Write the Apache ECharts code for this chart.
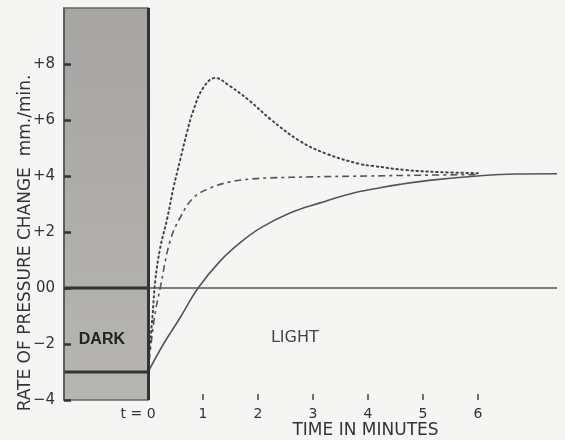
<!DOCTYPE html>
<html>
<head>
<meta charset="utf-8">
<script src="https://cdn.jsdelivr.net/npm/echarts@6/dist/echarts.min.js"></script>
<style>
html,body{margin:0;padding:0;background:#f5f5f3;}
#c{width:565px;height:440px;}
</style>
</head>
<body>
<div id="c"></div>
<script>
// ---- data ----
const xMin = -1.53, xMax = 7.44;
const yMin = -4, yMax = 10;
const xTickValues = [0, 1, 2, 3, 4, 5, 6];
const xTickLabels = ['t = 0', '1', '2', '3', '4', '5', '6'];
const yTickValues = [-4, -2, 0, 2, 4, 6, 8];
const yTickLabels = ['\u22124', '\u22122', '00', '+2', '+4', '+6', '+8'];

const solidCurve = [[0,-3],[0.28,-2.0],[0.58,-1.07],[0.91,0],[1.31,0.96],[1.67,1.61],[2.04,2.14],[2.58,2.68],[3.13,3.04],[3.67,3.36],[4.22,3.58],[4.58,3.7],[5.2,3.86],[6,4.0],[6.7,4.07],[7.44,4.08]];
const dashedCurve = [[0.02,-2.6],[0.12,-1.0],[0.22,0],[0.4,1.68],[0.58,2.5],[0.82,3.21],[1.13,3.57],[1.49,3.79],[1.85,3.89],[2.2,3.93],[3,3.97],[4,4.0],[5,4.03],[6,4.05]];
const dottedCurve = [[0.02,-2.3],[0.08,-1.0],[0.13,0.25],[0.22,1.43],[0.35,2.5],[0.46,3.57],[0.58,4.54],[0.7,5.5],[0.82,6.32],[1.0,7.14],[1.22,7.5],[1.49,7.21],[1.85,6.68],[2.22,6.04],[2.76,5.25],[3.25,4.79],[3.85,4.43],[4.09,4.36],[4.7,4.21],[5.3,4.14],[6.0,4.1]];
const darkZero = [[xMin,0],[0,0]];
const darkLevel = [[xMin,-3],[0,-3]];
const lightZero = [[0,0],[xMax,0]];
const darkLabel = ['DARK', -0.84, -1.86];
const lightLabel = ['LIGHT', 2.67, -1.79];

const FONT = 'DejaVu Sans';
const chart = echarts.init(document.getElementById('c'));
chart.setOption({
  backgroundColor: '#f5f5f3',
  animation: false,
  grid: {left: 64, right: 8, top: 8, bottom: 40, containLabel: false, outerBoundsMode: 'none'},
  xAxis: {
    type: 'value', min: xMin, max: xMax,
    name: 'TIME IN MINUTES', nameLocation: 'middle', nameGap: 22, nameMoveOverlap: false,
    nameTextStyle: {fontFamily: FONT, fontSize: 17, color: '#333', padding: [0, 0, 0, 110]},
    axisLine: {show: false, onZero: false},
    splitLine: {show: false},
    axisTick: {show: true, inside: true, length: 6, customValues: xTickValues.slice(1),
      lineStyle: {color: '#444', width: 1.5}},
    axisLabel: {
      customValues: xTickValues, margin: 7, color: '#333', fontFamily: FONT, fontSize: 14,
      formatter: v => {
        const i = xTickValues.indexOf(v);
        if (i === 0) return '{t|' + xTickLabels[0] + '}';
        return i >= 0 ? xTickLabels[i] : '';
      },
      rich: {t: {fontFamily: FONT, fontSize: 14, color: '#333', padding: [0, 20, 0, 0]}}
    }
  },
  yAxis: {
    type: 'value', min: yMin, max: yMax, z: 10,
    name: 'RATE OF PRESSURE CHANGE  mm./min.', nameLocation: 'middle', nameGap: 30, nameRotate: 90,
    nameMoveOverlap: false,
    nameTextStyle: {fontFamily: FONT, fontSize: 17, color: '#333', padding: [0, 78, 0, 0]},
    axisLine: {show: true, onZero: false, lineStyle: {color: '#555', width: 1.5}},
    splitLine: {show: false},
    axisTick: {show: true, inside: true, length: 7, customValues: yTickValues,
      lineStyle: {color: '#333', width: 2.5}},
    axisLabel: {
      customValues: yTickValues, margin: 9, color: '#333', fontFamily: FONT, fontSize: 15,
      formatter: v => {
        const i = yTickValues.indexOf(v);
        return i >= 0 ? yTickLabels[i] : '';
      }
    }
  },
  series: [
    {
      type: 'line', data: darkZero, showSymbol: false, silent: true, z: 5,
      lineStyle: {color: '#333', width: 3},
      markArea: {
        silent: true,
        itemStyle: {
          color: new echarts.graphic.LinearGradient(0, 0, 0, 1, [
            {offset: 0, color: '#a6a5a3'}, {offset: 1, color: '#b6b5b2'}
          ]),
          borderColor: '#666', borderWidth: 1.5
        },
        data: [[{coord: [xMin, yMax]}, {coord: [0, yMin]}]]
      },
      markLine: {
        silent: true, symbol: 'none', label: {show: false},
        lineStyle: {color: '#333', width: 3, type: 'solid'},
        data: [[{coord: [0, yMin]}, {coord: [0, yMax]}]]
      },
      markPoint: {
        silent: true, symbol: 'circle', symbolSize: 1,
        itemStyle: {color: 'rgba(0,0,0,0)'},
        data: [
          {coord: [darkLabel[1], darkLabel[2]], value: darkLabel[0],
           label: {show: true, position: 'inside', formatter: darkLabel[0], fontFamily: 'Liberation Sans',
             fontWeight: 'bold', fontSize: 16, color: '#222'}},
          {coord: [lightLabel[1], lightLabel[2]], value: lightLabel[0],
           label: {show: true, position: 'inside', formatter: lightLabel[0], fontFamily: FONT,
             fontSize: 16, color: '#444'}}
        ]
      }
    },
    {type: 'line', data: darkLevel, showSymbol: false, silent: true, z: 5,
      lineStyle: {color: '#333', width: 3}},
    {type: 'line', data: lightZero, showSymbol: false, silent: true,
      lineStyle: {color: '#555', width: 1.3}},
    {type: 'line', data: solidCurve, showSymbol: false, smooth: 0.4, silent: true,
      lineStyle: {color: '#555', width: 1.6}},
    {type: 'line', data: dashedCurve, showSymbol: false, smooth: 0.4, silent: true,
      lineStyle: {color: '#555', width: 1.6, type: [7, 4, 3, 4]}},
    {type: 'line', data: dottedCurve, showSymbol: false, smooth: 0.4, silent: true,
      lineStyle: {color: '#444', width: 2, type: [1.5, 3.5], cap: 'round'}}
  ]
});
</script>
</body>
</html>
